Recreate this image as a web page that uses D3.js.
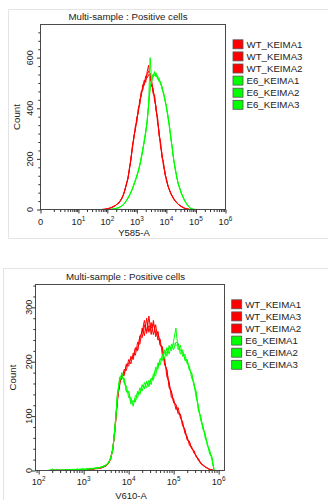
<!DOCTYPE html>
<html>
<head>
<meta charset="utf-8">
<script src="https://cdn.jsdelivr.net/npm/d3@7"></script>
<style>
  body { margin: 0; background: #fff; }
  svg { display: block; }
  text { font-family: "Liberation Sans", Arial, sans-serif; fill: #222; }
</style>
</head>
<body>
<svg id="chart" width="328" height="500"></svg>
<script>
// Sample names (legend order) and their colours
const sampleNames = ["WT_KEIMA1", "WT_KEIMA3", "WT_KEIMA2", "E6_KEIMA1", "E6_KEIMA2", "E6_KEIMA3"];
const sampleColors = ["#ff0000", "#ff0000", "#ff0000", "#00ff00", "#00ff00", "#00ff00"];

const panelTitle = "Multi-sample : Positive cells";

// ---------- Y585-A histogram ----------
// channel bins, as log10 of intensity
const y585Bins = [1.8,1.85,1.9,1.95,2,2.05,2.1,2.15,2.2,2.25,2.3,2.35,2.4,2.45,2.5,2.55,2.6,2.65,2.7,2.75,
  2.8,2.85,2.9,2.95,3,3.05,3.1,3.15,3.2,3.25,3.3,3.35,3.4,3.45,3.5,3.55,3.6,3.65,3.7,3.75,3.8,3.85,3.9,3.95,4,
  4.05,4.1,4.15,4.2,4.25,4.3,4.35,4.4,4.45,4.5,4.55,4.6,4.65,4.7,4.75,4.8,4.85,4.9,4.95,5];
const y585_WT_KEIMA1 = [0,0,1,2,2,4,5,9,10,15,17,23,27,38,44,62,78,103,122,163,
  196,252,278,330,345,400,415,468,470,512,502,545,570,515,510,458,452,388,366,292,270,205,188,138,124,
  92,80,61,54,40,35,26,22,15,13,8,6,4,2,1,0,0,0,0,0];
const y585_WT_KEIMA3 = [0,1,0,2,3,3,7,7,12,13,19,21,30,34,48,58,83,97,128,156,
  207,238,293,312,366,380,436,446,494,490,528,520,532,538,488,480,428,410,344,314,250,224,172,152,112,
  98,76,66,50,44,33,28,20,17,11,10,5,4,3,1,0,0,0,0,0];
const y585_WT_KEIMA2 = [0,0,1,1,3,5,6,8,12,14,18,24,26,36,47,59,77,104,121,164,
  195,248,286,322,352,394,420,460,478,505,512,536,548,516,502,466,445,395,360,300,262,212,183,142,120,
  93,79,62,53,40,35,26,22,16,12,9,6,3,2,1,0,0,0,0,0];
const y585_E6_KEIMA1 = [0,0,0,0,0,0,0,1,2,2,5,5,9,10,16,19,28,35,47,54,
  70,80,101,112,136,148,179,200,240,265,310,344,420,600,505,535,528,540,515,520,495,488,455,440,400,
  375,325,290,236,198,156,131,100,86,64,54,38,30,19,13,5,3,1,0,0];
const y585_E6_KEIMA2 = [0,0,0,0,0,0,1,0,2,3,4,7,7,12,14,21,26,37,44,58,
  66,84,95,118,128,156,171,210,230,276,300,356,410,480,518,522,545,524,530,505,506,476,465,430,410,
  365,336,280,244,192,163,126,104,82,68,50,41,28,21,11,7,2,1,1,0];
const y585_E6_KEIMA3 = [0,0,0,0,0,0,0,1,1,3,4,6,8,11,15,20,27,36,45,56,
  69,81,100,113,135,150,178,202,238,266,308,348,416,482,506,534,538,527,524,510,502,480,462,432,408,
  368,332,282,243,194,161,128,102,84,66,52,40,29,20,12,6,3,1,0,0];

const y585MajorTicks = [0, 10, 100, 1000, 10000, 100000, 1000000];
const y585TickLabels = [["0", ""], ["10", "1"], ["10", "2"], ["10", "3"], ["10", "4"], ["10", "5"], ["10", "6"]];
const y585CountTicks = [0, 200, 400, 600];

// ---------- V610-A histogram ----------
const v610Bins = [2.2,2.25,2.3,2.35,2.4,2.45,2.5,2.55,2.6,2.65,2.7,2.75,2.8,2.85,2.9,2.95,3,3.05,3.1,3.15,
  3.2,3.25,3.3,3.35,3.4,3.45,3.5,3.55,3.6,3.65,3.7,3.75,3.8,3.85,3.9,3.95,4,4.05,4.1,4.15,4.2,4.25,4.3,4.35,
  4.4,4.45,4.5,4.55,4.6,4.65,4.7,4.75,4.8,4.85,4.9,4.95,5,5.05,5.1,5.15,5.2,5.25,5.3,5.35,5.4,5.45,5.5,5.55,
  5.6,5.65,5.7,5.75,5.8,5.85,5.9];
const v610_WT_KEIMA1 = [0,0,0,1,0,0,1,0,1,0,1,1,0,2,1,1,2,1,3,2,3,4,3,5,6,6,10,
  12,24,38,84,126,166,168,186,184,204,196,216,212,236,232,262,248,280,254,272,250,268,240,242,212,206,172,164,
  134,132,112,116,96,90,68,63,46,44,32,28,18,15,9,7,4,2,1,0];
const v610_WT_KEIMA3 = [0,0,1,0,0,1,0,0,1,1,0,1,2,1,1,2,1,2,2,3,2,3,5,4,5,8,8,
  14,20,42,76,134,156,178,174,196,192,210,204,224,220,248,244,268,252,284,250,276,246,256,230,228,194,186,152,
  146,124,122,104,104,82,76,56,54,40,37,25,22,13,11,6,5,2,1,0];
const v610_WT_KEIMA2 = [0,0,0,0,1,0,0,1,0,1,1,0,1,1,2,1,1,2,2,2,3,3,4,4,5,7,9,
  13,22,40,80,130,162,176,178,194,196,206,208,226,222,246,254,276,256,266,262,270,252,254,232,224,198,184,156,
  144,126,120,108,102,84,74,58,52,40,36,26,21,13,10,7,4,2,1,0];
const v610_E6_KEIMA1 = [0,0,3,0,1,0,1,1,0,2,1,2,1,3,2,2,2,3,3,4,3,5,4,6,6,9,10,
  13,23,38,86,134,172,170,170,144,146,122,128,126,146,140,158,150,164,154,170,166,190,186,206,202,222,210,230,
  220,238,262,222,230,210,214,196,192,170,162,134,120,92,84,60,50,30,26,0];
const v610_E6_KEIMA2 = [0,1,0,1,2,0,0,1,1,1,2,1,2,1,2,3,2,2,3,3,4,4,5,5,7,7,11,
  15,21,42,78,142,164,180,160,156,134,134,118,138,134,152,146,162,152,166,158,178,174,198,194,214,206,226,214,
  232,222,236,234,214,222,202,204,184,180,156,146,110,100,76,68,46,38,20,0];
const v610_E6_KEIMA3 = [0,0,1,0,1,1,1,0,1,1,1,2,1,2,2,2,3,2,3,3,3,4,5,5,6,8,10,
  14,22,40,82,138,168,172,168,146,144,126,128,128,144,142,156,152,162,158,168,170,186,190,204,206,218,216,226,
  224,234,230,232,220,218,206,202,186,178,158,142,113,98,78,66,47,35,23,0];

const v610MajorTicks = [100, 1000, 10000, 100000, 1000000];
const v610TickLabels = [["10", "2"], ["10", "3"], ["10", "4"], ["10", "5"], ["10", "6"]];
const v610CountTicks = [0, 100, 200, 300];

// ---------------------------------------------------------------
const svg = d3.select("#chart");

const panels = [
  {
    id: "y585",
    box: { x: 8.5, y: 9.5, bottom: 238.5 },
    frame: { left: 40.5, right: 225.5, top: 24.5, bottom: 209.5 },
    x: d3.scaleSymlog().constant(0.55).domain([0, 1e6]).range([40.5, 225.5]),
    y: d3.scaleLinear().domain([0, 731]).range([209.5, 24.5]),
    bins: y585Bins,
    series: [y585_WT_KEIMA1, y585_WT_KEIMA3, y585_WT_KEIMA2, y585_E6_KEIMA1, y585_E6_KEIMA2, y585_E6_KEIMA3],
    majors: y585MajorTicks, labels: y585TickLabels,
    minors: [1,2,3,4,5,6,7,8,9].concat(...[1,2,3,4,5].map(k => [2,3,4,5,6,7,8,9].map(m => m * Math.pow(10, k)))),
    countTicks: y585CountTicks, countMinor: 200 / 6,
    titleX: 128, titleY: 19.5,
    xTitle: "Y585-A", xTitleX: 134, xTitleY: 236, tickLabelY: 224.5,
    countLabelX: 32.5, countTitleX: 19.5,
    legendX: 233, legendY: 44.3
  },
  {
    id: "v610",
    box: { x: 3.5, y: 268.5, bottom: null },
    frame: { left: 35.5, right: 224.5, top: 284.5, bottom: 470.5 },
    x: d3.scaleLog().domain([Math.pow(10, 1.93), Math.pow(10, 6.13)]).range([35.5, 224.5]),
    y: d3.scaleLinear().domain([0, 342]).range([470.5, 284.5]),
    bins: v610Bins,
    series: [v610_WT_KEIMA1, v610_WT_KEIMA3, v610_WT_KEIMA2, v610_E6_KEIMA1, v610_E6_KEIMA2, v610_E6_KEIMA3],
    majors: v610MajorTicks, labels: v610TickLabels,
    minors: [].concat(...[1,2,3,4,5].map(k => [2,3,4,5,6,7,8,9].map(m => m * Math.pow(10, k))))
      .filter(v => v > Math.pow(10, 1.93) && v < Math.pow(10, 6.13)),
    countTicks: v610CountTicks, countMinor: 20,
    titleX: 125.5, titleY: 279.5,
    xTitle: "V610-A", xTitleX: 131, xTitleY: 499, tickLabelY: 485,
    countLabelX: 31.5, countTitleX: 15.8,
    legendX: 231.7, legendY: 304.3
  }
];

panels.forEach(p => {
  const g = svg.append("g").attr("class", "panel-" + p.id);
  const f = p.frame;

  // light panel border
  const yEnd = p.box.bottom === null ? 500 : p.box.bottom;
  let border = `M${p.box.x},${yEnd} V${p.box.y} H328`;
  if (p.box.bottom !== null) border += ` M${p.box.x},${p.box.bottom} H328`;
  g.append("path")
    .attr("d", border)
    .attr("fill", "none").attr("stroke", "#e4e4e4").attr("stroke-width", 1);

  // title
  g.append("text").attr("x", p.titleX).attr("y", p.titleY)
    .attr("text-anchor", "middle").style("font-size", "9.7px").text(panelTitle);

  // histogram traces
  const clipId = "clip-" + p.id;
  g.append("clipPath").attr("id", clipId).append("rect")
    .attr("x", f.left).attr("y", f.top).attr("width", f.right - f.left).attr("height", f.bottom - f.top + 1);
  const line = d3.line()
    .x((d, i) => p.x(Math.pow(10, p.bins[i])))
    .y(d => p.y(d));
  const traces = g.append("g").attr("clip-path", `url(#${clipId})`);
  p.series.forEach((s, i) => {
    traces.append("path").datum(s)
      .attr("d", line)
      .attr("fill", "none")
      .attr("stroke", sampleColors[i])
      .attr("stroke-width", 1)
      .attr("stroke-linejoin", "round");
  });

  // frame
  g.append("rect").attr("x", f.left).attr("y", f.top)
    .attr("width", f.right - f.left).attr("height", f.bottom - f.top)
    .attr("fill", "none").attr("stroke", "#4a4a4a").attr("stroke-width", 1);

  // x axis: major and minor ticks
  const xMajor = d3.axisBottom(p.x).tickValues(p.majors).tickSize(4).tickFormat("");
  const xMinor = d3.axisBottom(p.x).tickValues(p.minors).tickSize(2.5).tickFormat("");
  [xMajor, xMinor].forEach(ax => {
    const a = g.append("g").attr("transform", `translate(0,${f.bottom})`).call(ax);
    a.select(".domain").remove();
    a.selectAll("line").attr("stroke", "#333");
  });
  // x tick labels with superscript exponent
  p.majors.forEach((v, i) => {
    const lab = p.labels[i];
    const t = g.append("text").attr("x", p.x(v)).attr("y", p.tickLabelY)
      .attr("text-anchor", "middle").style("font-size", "9.2px");
    t.append("tspan").text(lab[0]);
    if (lab[1]) t.append("tspan").attr("dy", -3.8).style("font-size", "6.4px").text(lab[1]);
  });
  g.append("text").attr("x", p.xTitleX).attr("y", p.xTitleY)
    .attr("text-anchor", "middle").style("font-size", "9.5px").text(p.xTitle);

  // y axis
  const yMax = p.y.domain()[1];
  const yMinorVals = d3.range(0, yMax, p.countMinor).filter(v => p.countTicks.indexOf(Math.round(v)) < 0);
  const yMajor = d3.axisLeft(p.y).tickValues(p.countTicks).tickSize(3.5).tickFormat("");
  const yMinor = d3.axisLeft(p.y).tickValues(yMinorVals).tickSize(2.2).tickFormat("");
  [yMajor, yMinor].forEach(ax => {
    const a = g.append("g").attr("transform", `translate(${f.left},0)`).call(ax);
    a.select(".domain").remove();
    a.selectAll("line").attr("stroke", "#333");
  });
  p.countTicks.forEach(v => {
    g.append("text")
      .attr("transform", `translate(${p.countLabelX},${p.y(v)}) rotate(-90)`)
      .attr("text-anchor", "middle").style("font-size", "9px").text(v);
  });
  g.append("text")
    .attr("transform", `translate(${p.countTitleX},${(f.top + f.bottom) / 2}) rotate(-90)`)
    .attr("text-anchor", "middle").style("font-size", "9.7px").text("Count");

  // legend
  const leg = g.append("g");
  sampleNames.forEach((name, i) => {
    const cy = p.legendY + i * 12.1;
    leg.append("rect").attr("x", p.legendX).attr("y", cy - 4.5)
      .attr("width", 10).attr("height", 9)
      .attr("fill", sampleColors[i]).attr("stroke", "#555").attr("stroke-width", 0.8);
    leg.append("text").attr("x", p.legendX + 13.5).attr("y", cy + 3.5)
      .style("font-size", "9.7px").text(name);
  });
});
</script>
</body>
</html>
